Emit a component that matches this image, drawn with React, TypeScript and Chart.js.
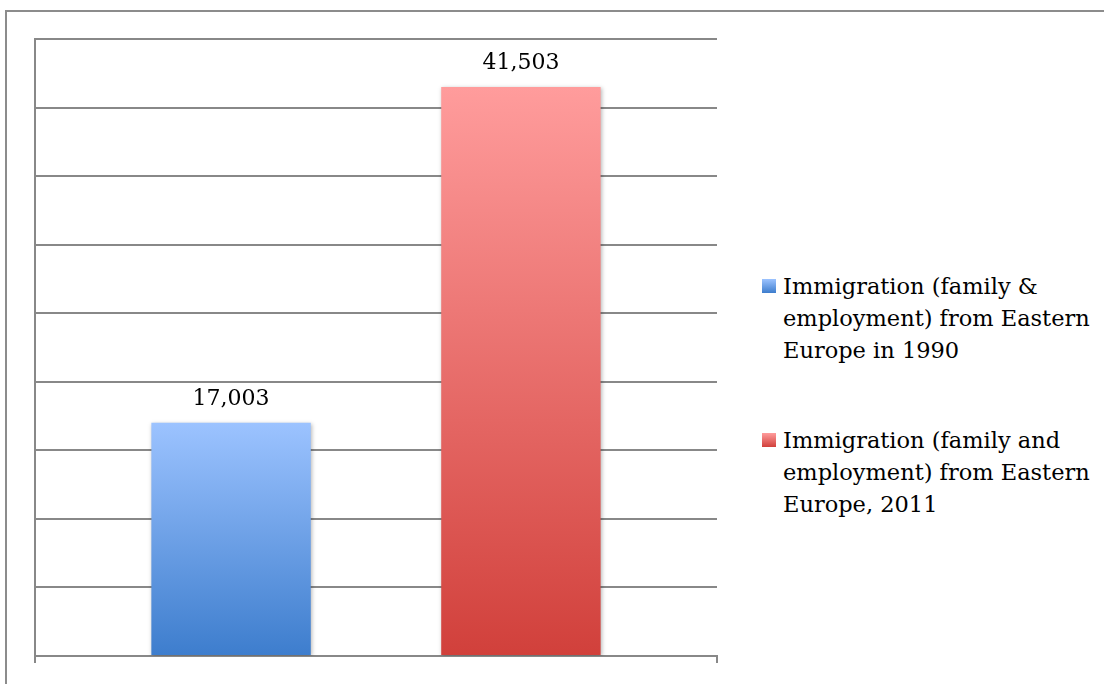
import React, { useEffect, useRef } from "react";
import { Chart, registerables } from "chart.js";

Chart.register(...registerables);

const categories = [""];
const seriesNames = [
  "Immigration (family & employment) from Eastern Europe in 1990",
  "Immigration (family and employment) from Eastern Europe, 2011",
];
const values1990 = [17003];
const values2011 = [41503];
const gradientTops = ["#9cc3ff", "#ff9c9c"];
const gradientBottoms = ["#3d7dcd", "#d1403b"];
const yMin = 0;
const yMax = 45000;
const yStep = 5000;

const FONT = '"DejaVu Serif", serif';
const GRID = "#888888";

export default function App() {
  const canvasRef = useRef<HTMLCanvasElement | null>(null);

  useEffect(() => {
    const canvas = canvasRef.current;
    if (!canvas) return;

    const makeBg = (i: number) => (ctx: any) => {
      const chart = ctx.chart;
      const ys = chart.scales && chart.scales.y;
      if (!ys || !chart.chartArea || ctx.parsed == null) return gradientTops[i];
      const top = ys.getPixelForValue(ctx.parsed.y);
      const bottom = ys.getPixelForValue(0);
      const g = chart.ctx.createLinearGradient(0, top, 0, bottom);
      g.addColorStop(0, gradientTops[i]);
      g.addColorStop(1, gradientBottoms[i]);
      return g;
    };

    const labelsPlugin = {
      id: "valueLabels",
      beforeDatasetsDraw(chart: any) {
        const c = chart.ctx;
        c.save();
        c.shadowColor = "rgba(0,0,0,0.28)";
        c.shadowBlur = 4;
        c.shadowOffsetX = 1;
        c.shadowOffsetY = 1;
      },
      afterDatasetsDraw(chart: any) {
        const c = chart.ctx;
        c.restore();
        c.save();
        c.font = "22px " + FONT;
        c.fillStyle = "#000";
        c.textAlign = "center";
        c.textBaseline = "alphabetic";
        chart.data.datasets.forEach((ds: any, di: number) => {
          const meta = chart.getDatasetMeta(di);
          meta.data.forEach((el: any, idx: number) => {
            const v = ds.data[idx];
            c.fillText(Number(v).toLocaleString("en-US"), el.x, el.y - 18);
          });
        });
        c.restore();
      },
    };

    const chart = new Chart(canvas, {
      type: "bar",
      data: {
        labels: categories,
        datasets: [
          {
            label: seriesNames[0],
            data: values1990,
            backgroundColor: makeBg(0),
            borderWidth: 0,
            categoryPercentage: 0.85,
            barPercentage: 0.55,
          },
          {
            label: seriesNames[1],
            data: values2011,
            backgroundColor: makeBg(1),
            borderWidth: 0,
            categoryPercentage: 0.85,
            barPercentage: 0.55,
          },
        ],
      },
      options: {
        responsive: false,
        animation: false,
        layout: { padding: { left: 35, top: 39, right: 23, bottom: 21 } },
        plugins: {
          legend: { display: false },
          tooltip: { enabled: false },
        },
        scales: {
          x: {
            grid: {
              offset: true,
              drawOnChartArea: false,
              drawTicks: true,
              tickLength: 7,
              color: GRID,
              lineWidth: 2,
            },
            border: { display: true, color: GRID, width: 2 },
            ticks: { display: false },
          },
          y: {
            min: yMin,
            max: yMax,
            ticks: { display: false, stepSize: yStep },
            grid: { color: GRID, lineWidth: 2, drawTicks: false },
            border: { display: true, color: GRID, width: 2 },
          },
        },
      },
      plugins: [labelsPlugin],
    });

    return () => chart.destroy();
  }, []);

  const legendItem = (i: number, top: number) => (
    <div
      key={i}
      style={{
        position: "absolute",
        left: 762,
        top,
        display: "flex",
        alignItems: "flex-start",
      }}
    >
      <div
        style={{
          width: 14,
          height: 14,
          marginTop: 9,
          marginRight: 7,
          flex: "none",
          background: `linear-gradient(to bottom, ${gradientTops[i]}, ${gradientBottoms[i]})`,
        }}
      />
      <div
        style={{
          width: 320,
          fontFamily: FONT,
          fontSize: 22.5,
          lineHeight: "32px",
          color: "#000",
        }}
      >
        {seriesNames[i]}
      </div>
    </div>
  );

  return (
    <div
      style={{
        position: "fixed",
        left: 0,
        top: 0,
        width: 1104,
        height: 684,
        background: "#fff",
        overflow: "hidden",
      }}
    >
      <div
        style={{
          position: "absolute",
          left: 5,
          top: 10,
          width: 1300,
          height: 900,
          border: "2px solid #8c8c8c",
        }}
      />
      <canvas
        ref={canvasRef}
        width={740}
        height={684}
        style={{ position: "absolute", left: 0, top: 0, width: 740, height: 684 }}
      />
      {legendItem(0, 270)}
      {legendItem(1, 424)}
    </div>
  );
}
